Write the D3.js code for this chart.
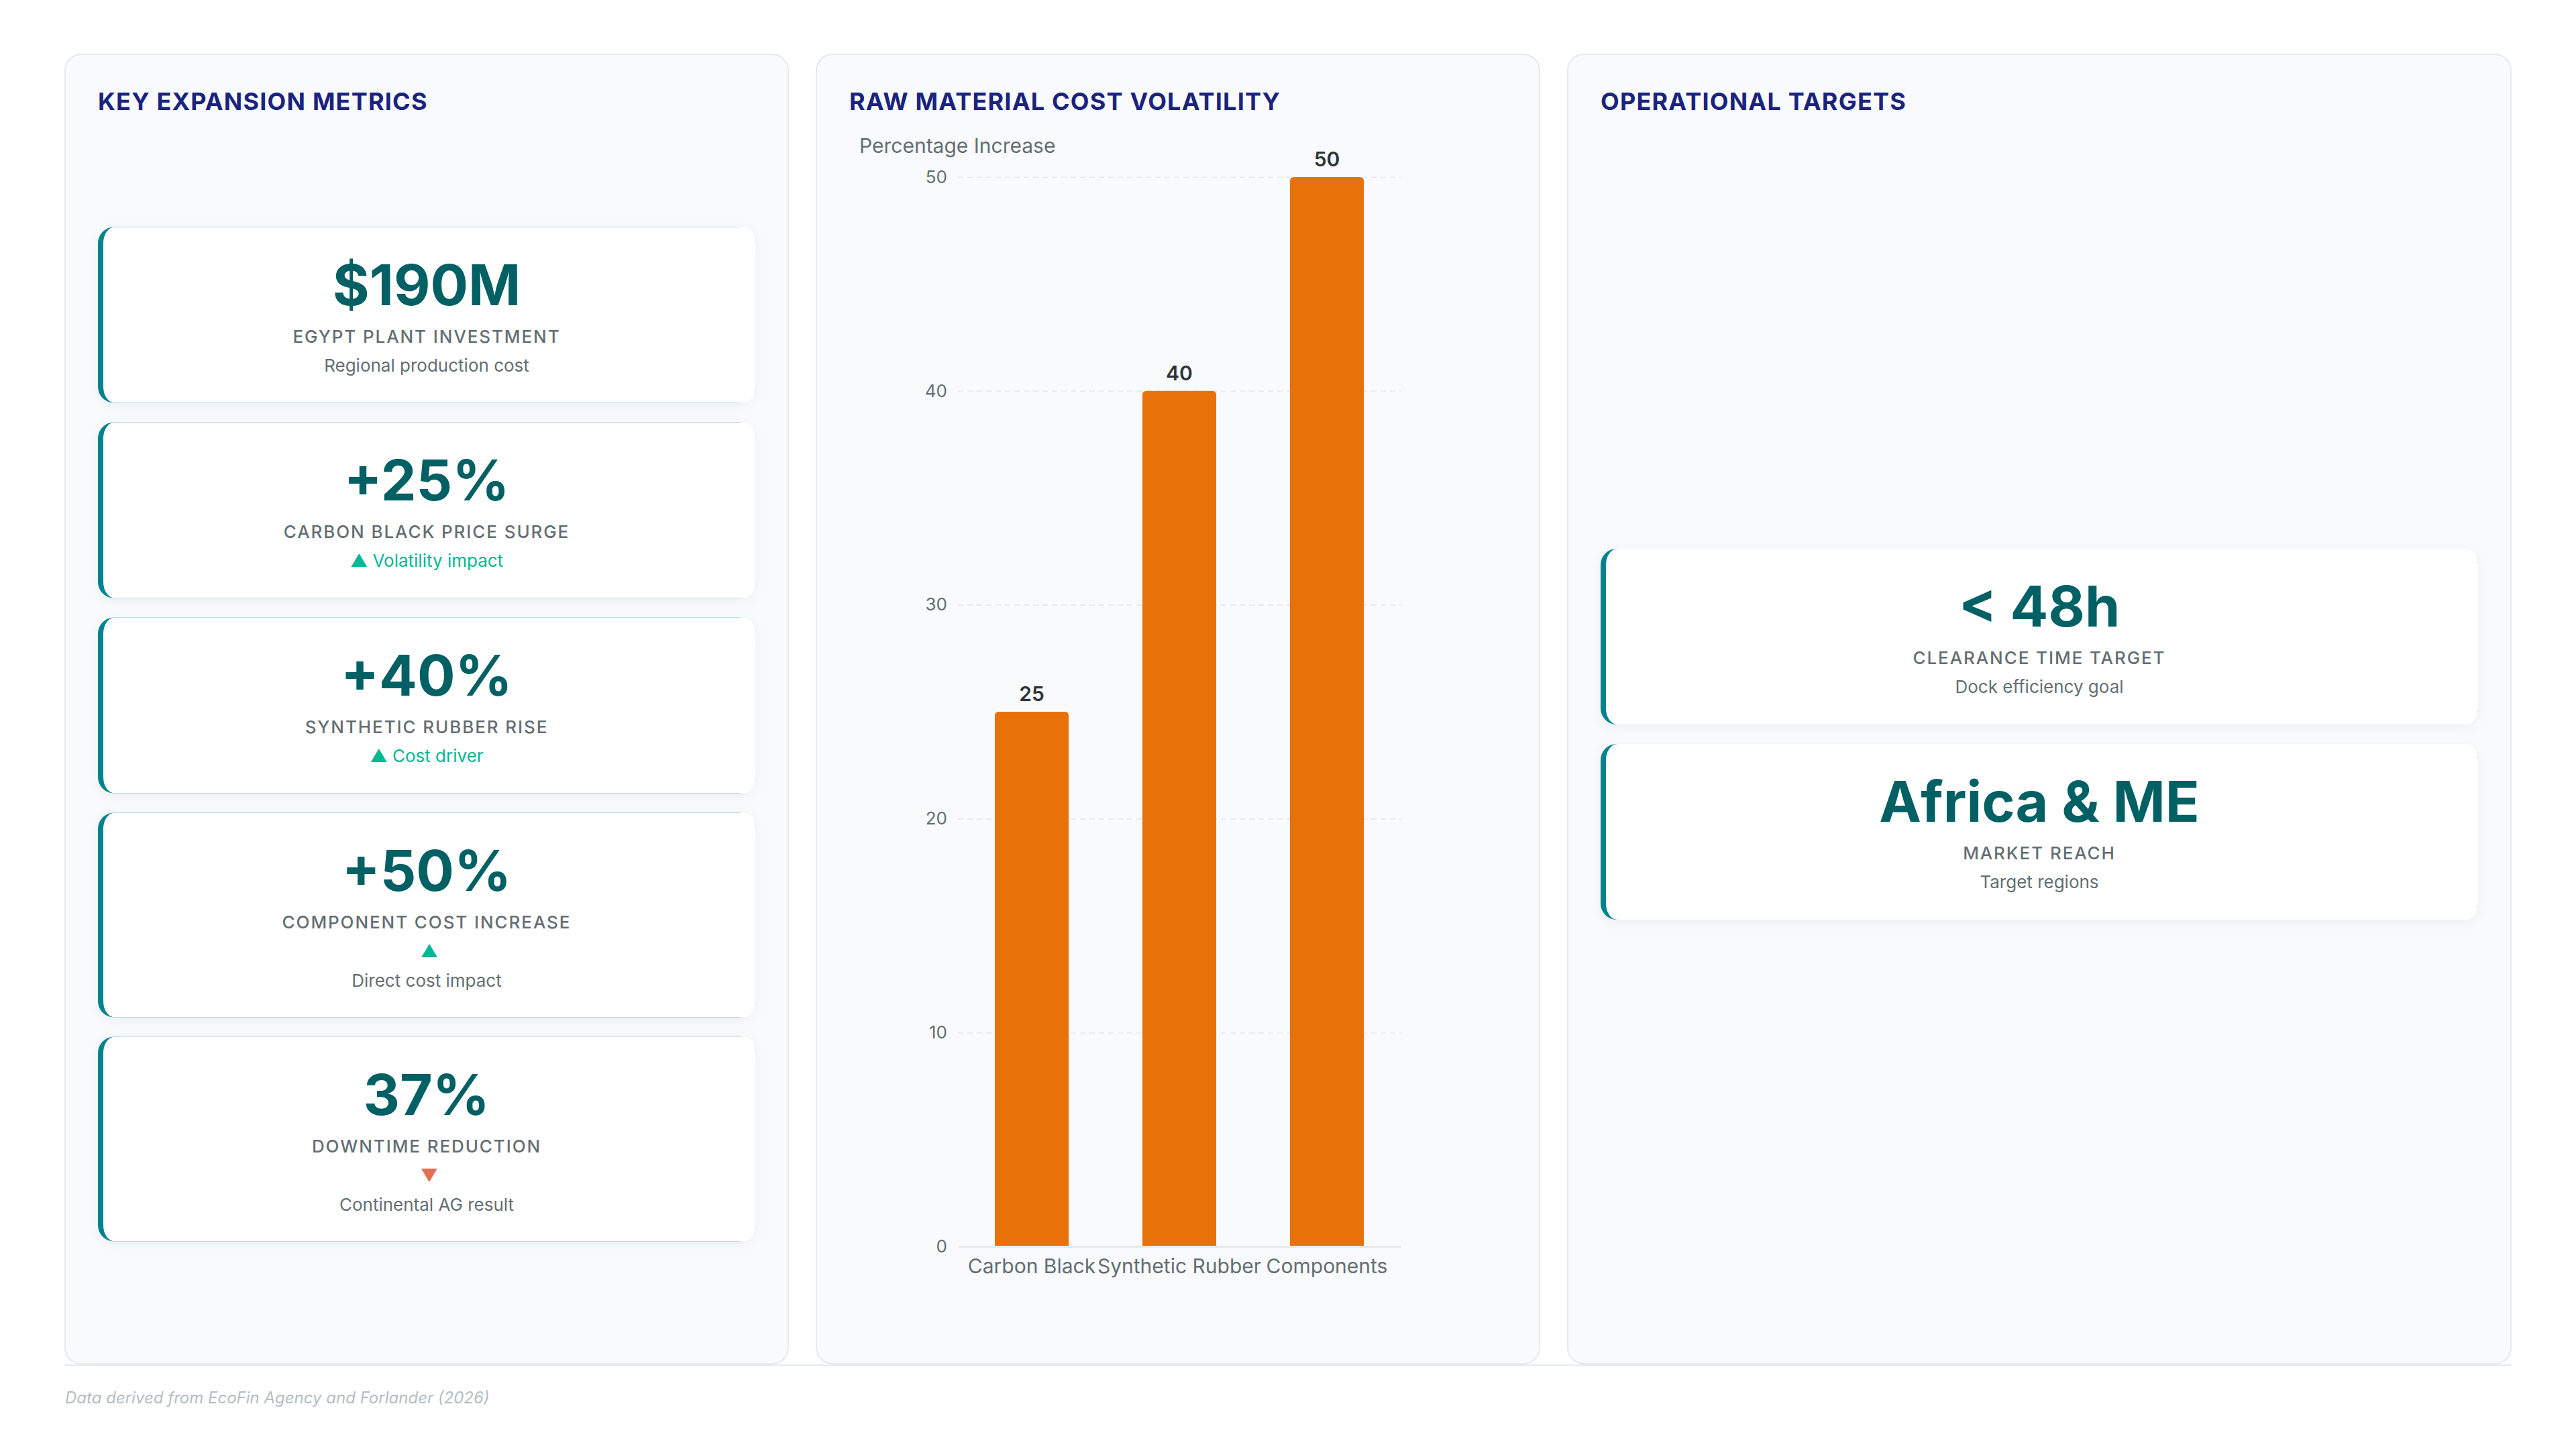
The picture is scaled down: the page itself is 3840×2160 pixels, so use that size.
<!DOCTYPE html>
<html>
<head>
<meta charset="utf-8">
<script src="https://cdn.jsdelivr.net/npm/d3@7"></script>
<style>
  html, body { margin: 0; padding: 0; background: #ffffff; }
  svg { display: block; font-family: Inter, "Noto Sans", sans-serif; }
</style>
</head>
<body>
<div id="dash"></div>
<script>
// ---- data ----
const metricValues = ["$190M", "+25%", "+40%", "+50%", "37%"];
const metricLabels = ["EGYPT PLANT INVESTMENT", "CARBON BLACK PRICE SURGE", "SYNTHETIC RUBBER RISE", "COMPONENT COST INCREASE", "DOWNTIME REDUCTION"];
const metricTrends = [null, "up", "up", "up", "down"];
const metricTrendText = [null, "Volatility impact", "Cost driver", "", ""];
const metricSubs = ["Regional production cost", null, null, "Direct cost impact", "Continental AG result"];

const materials = ["Carbon Black", "Synthetic Rubber", "Components"];
const increases = [25, 40, 50];
const yTicks = [0, 10, 20, 30, 40, 50];

const targetValues = ["< 48h", "Africa & ME"];
const targetLabels = ["CLEARANCE TIME TARGET", "MARKET REACH"];
const targetSubs = ["Dock efficiency goal", "Target regions"];

const panelTitles = ["KEY EXPANSION METRICS", "RAW MATERIAL COST VOLATILITY", "OPERATIONAL TARGETS"];
const footnote = "Data derived from EcoFin Agency and Forlander (2026)";

// ---- layout ----
const W = 3840, H = 2160;
const panels = [
  { x: 96, w: 1080 },
  { x: 1216, w: 1080 },
  { x: 2336, w: 1408 }
];
const panelTop = 81, panelBottom = 2033;
const pad = 50;
const cardsCenter = 1094.5;

const svg = d3.select("#dash").append("svg")
  .attr("width", W)
  .attr("height", H);

const defs = svg.append("defs");
defs.append("filter").attr("id", "shadow")
  .attr("x", "-10%").attr("y", "-10%").attr("width", "120%").attr("height", "130%")
  .append("feDropShadow")
  .attr("dx", 0).attr("dy", 4).attr("stdDeviation", 8)
  .attr("flood-color", "#1e293b").attr("flood-opacity", 0.05);

// panels
svg.selectAll(".panel")
  .data(panels)
  .enter().append("rect")
  .attr("class", "panel")
  .attr("x", d => d.x + 1)
  .attr("y", panelTop)
  .attr("width", d => d.w - 2)
  .attr("height", panelBottom - panelTop)
  .attr("rx", 24)
  .attr("fill", "#f8fafc")
  .attr("stroke", "#e6e9ed")
  .attr("stroke-width", 2);

svg.selectAll(".ptitle")
  .data(panelTitles)
  .enter().append("text")
  .attr("class", "ptitle")
  .attr("x", (d, i) => panels[i].x + pad)
  .attr("y", 164)
  .attr("fill", "#1a237e")
  .attr("font-size", 36)
  .attr("font-weight", 700)
  .attr("letter-spacing", 1.2)
  .text(d => d);

// footer
svg.append("line")
  .attr("x1", 96).attr("x2", 3744)
  .attr("y1", 2035).attr("y2", 2035)
  .attr("stroke", "#e6e9ed").attr("stroke-width", 2);

svg.append("text")
  .attr("x", 97).attr("y", 2092)
  .attr("fill", "#b2bec3")
  .attr("font-size", 24)
  .attr("font-style", "italic")
  .text(footnote);

// ---- cards ----
const cardGap = 29;
function cardHeight(lines) { return lines === 4 ? 305 : 262; }

function drawCards(panel, cards) {
  const x = panel.x + pad, w = panel.w - pad * 2;
  const total = d3.sum(cards, c => cardHeight(c.lines.length)) + cardGap * (cards.length - 1);
  let top = cardsCenter - total / 2;
  const cx = x + w / 2;
  const lineY = [116, 172, 215, 259];

  cards.forEach(c => {
    const h = cardHeight(c.lines.length);
    const g = svg.append("g").attr("transform", "translate(0," + top + ")");
    g.append("rect")
      .attr("x", x).attr("y", 0).attr("width", w).attr("height", h)
      .attr("rx", 24).attr("fill", "#00838f")
      .attr("filter", "url(#shadow)");
    g.append("rect")
      .attr("x", x + 8).attr("y", 0).attr("width", w - 8).attr("height", h)
      .attr("rx", 17).attr("ry", 24).attr("fill", "#ffffff");

    c.lines.forEach((ln, i) => {
      g.append("text")
        .attr("x", cx + (ln.dx || 0)).attr("y", lineY[i])
        .attr("text-anchor", "middle")
        .attr("fill", ln.color)
        .attr("font-size", ln.size)
        .attr("font-weight", ln.weight)
        .attr("letter-spacing", ln.ls || 0)
        .text(ln.text);
    });
    top += h + cardGap;
  });
}

const valueStyle = t => ({ text: t, size: 84, weight: 700, color: "#006064" });
const labelStyle = t => ({ text: t, size: 26, weight: 500, color: "#636e72", ls: 1.9 });
const subStyle = t => ({ text: t, size: 26, weight: 400, color: "#636e72" });

const metricCards = metricValues.map((v, i) => {
  const lines = [valueStyle(v), labelStyle(metricLabels[i])];
  if (metricTrends[i]) {
    const up = metricTrends[i] === "up";
    const arrow = up ? "\u25B2" : "\u25BC";
    const txt = metricTrendText[i] ? arrow + " " + metricTrendText[i] : arrow;
    lines.push({ text: txt, size: 26, weight: 400, color: up ? "#00b894" : "#e17055", dx: metricTrendText[i] ? 0 : 4 });
  }
  if (metricSubs[i]) lines.push(subStyle(metricSubs[i]));
  return { lines };
});
drawCards(panels[0], metricCards);

const targetCards = targetValues.map((v, i) => ({
  lines: [valueStyle(v), labelStyle(targetLabels[i]), subStyle(targetSubs[i])]
}));
drawCards(panels[2], targetCards);

// ---- bar chart ----
const plot = { left: 1428, right: 2088, top: 264, bottom: 1858 };

const x = d3.scaleBand()
  .domain(materials)
  .range([plot.left, plot.right])
  .paddingInner(0.5)
  .paddingOuter(0.25);

const y = d3.scaleLinear()
  .domain([0, 50])
  .range([plot.bottom, plot.top]);

const chart = svg.append("g");

chart.append("text")
  .attr("x", 1281).attr("y", 228)
  .attr("fill", "#636e72")
  .attr("font-size", 30)
  .text("Percentage Increase");

// dashed grid
const grid = chart.append("g")
  .attr("transform", "translate(" + plot.left + ",0)")
  .call(d3.axisLeft(y).tickValues(yTicks.filter(t => t > 0)).tickSize(-(plot.right - plot.left)).tickFormat(""));
grid.select(".domain").remove();
grid.selectAll("line")
  .attr("stroke", "#e9ecef")
  .attr("stroke-width", 2)
  .attr("stroke-dasharray", "8,6");

// y labels
const yAxis = chart.append("g")
  .attr("transform", "translate(" + plot.left + ",0)")
  .call(d3.axisLeft(y).tickValues(yTicks).tickSize(0).tickPadding(16));
yAxis.select(".domain").remove();
yAxis.selectAll("text")
  .attr("fill", "#636e72")
  .attr("font-size", 26)
  .attr("font-family", "Inter, sans-serif");

// bars
function topRounded(x0, y0, w, h, r) {
  return "M" + x0 + "," + (y0 + h) +
    "V" + (y0 + r) +
    "Q" + x0 + "," + y0 + " " + (x0 + r) + "," + y0 +
    "H" + (x0 + w - r) +
    "Q" + (x0 + w) + "," + y0 + " " + (x0 + w) + "," + (y0 + r) +
    "V" + (y0 + h) + "Z";
}

chart.selectAll(".bar")
  .data(increases)
  .enter().append("path")
  .attr("class", "bar")
  .attr("d", (d, i) => topRounded(x(materials[i]), y(d), x.bandwidth(), y(0) - y(d), 6))
  .attr("fill", "#e8710a");

chart.selectAll(".barlabel")
  .data(increases)
  .enter().append("text")
  .attr("class", "barlabel")
  .attr("x", (d, i) => x(materials[i]) + x.bandwidth() / 2)
  .attr("y", d => y(d) - 16)
  .attr("text-anchor", "middle")
  .attr("fill", "#2d3436")
  .attr("font-size", 30)
  .attr("font-weight", 600)
  .text(d => d);

// x axis
const xAxis = chart.append("g")
  .attr("transform", "translate(0," + plot.bottom + ")")
  .call(d3.axisBottom(x).tickSize(0).tickPadding(19));
xAxis.select(".domain")
  .attr("stroke", "#e6e9ed")
  .attr("stroke-width", 3);
xAxis.selectAll("text")
  .attr("fill", "#636e72")
  .attr("font-size", 30)
  .attr("font-family", "Inter, sans-serif");
</script>
</body>
</html>
